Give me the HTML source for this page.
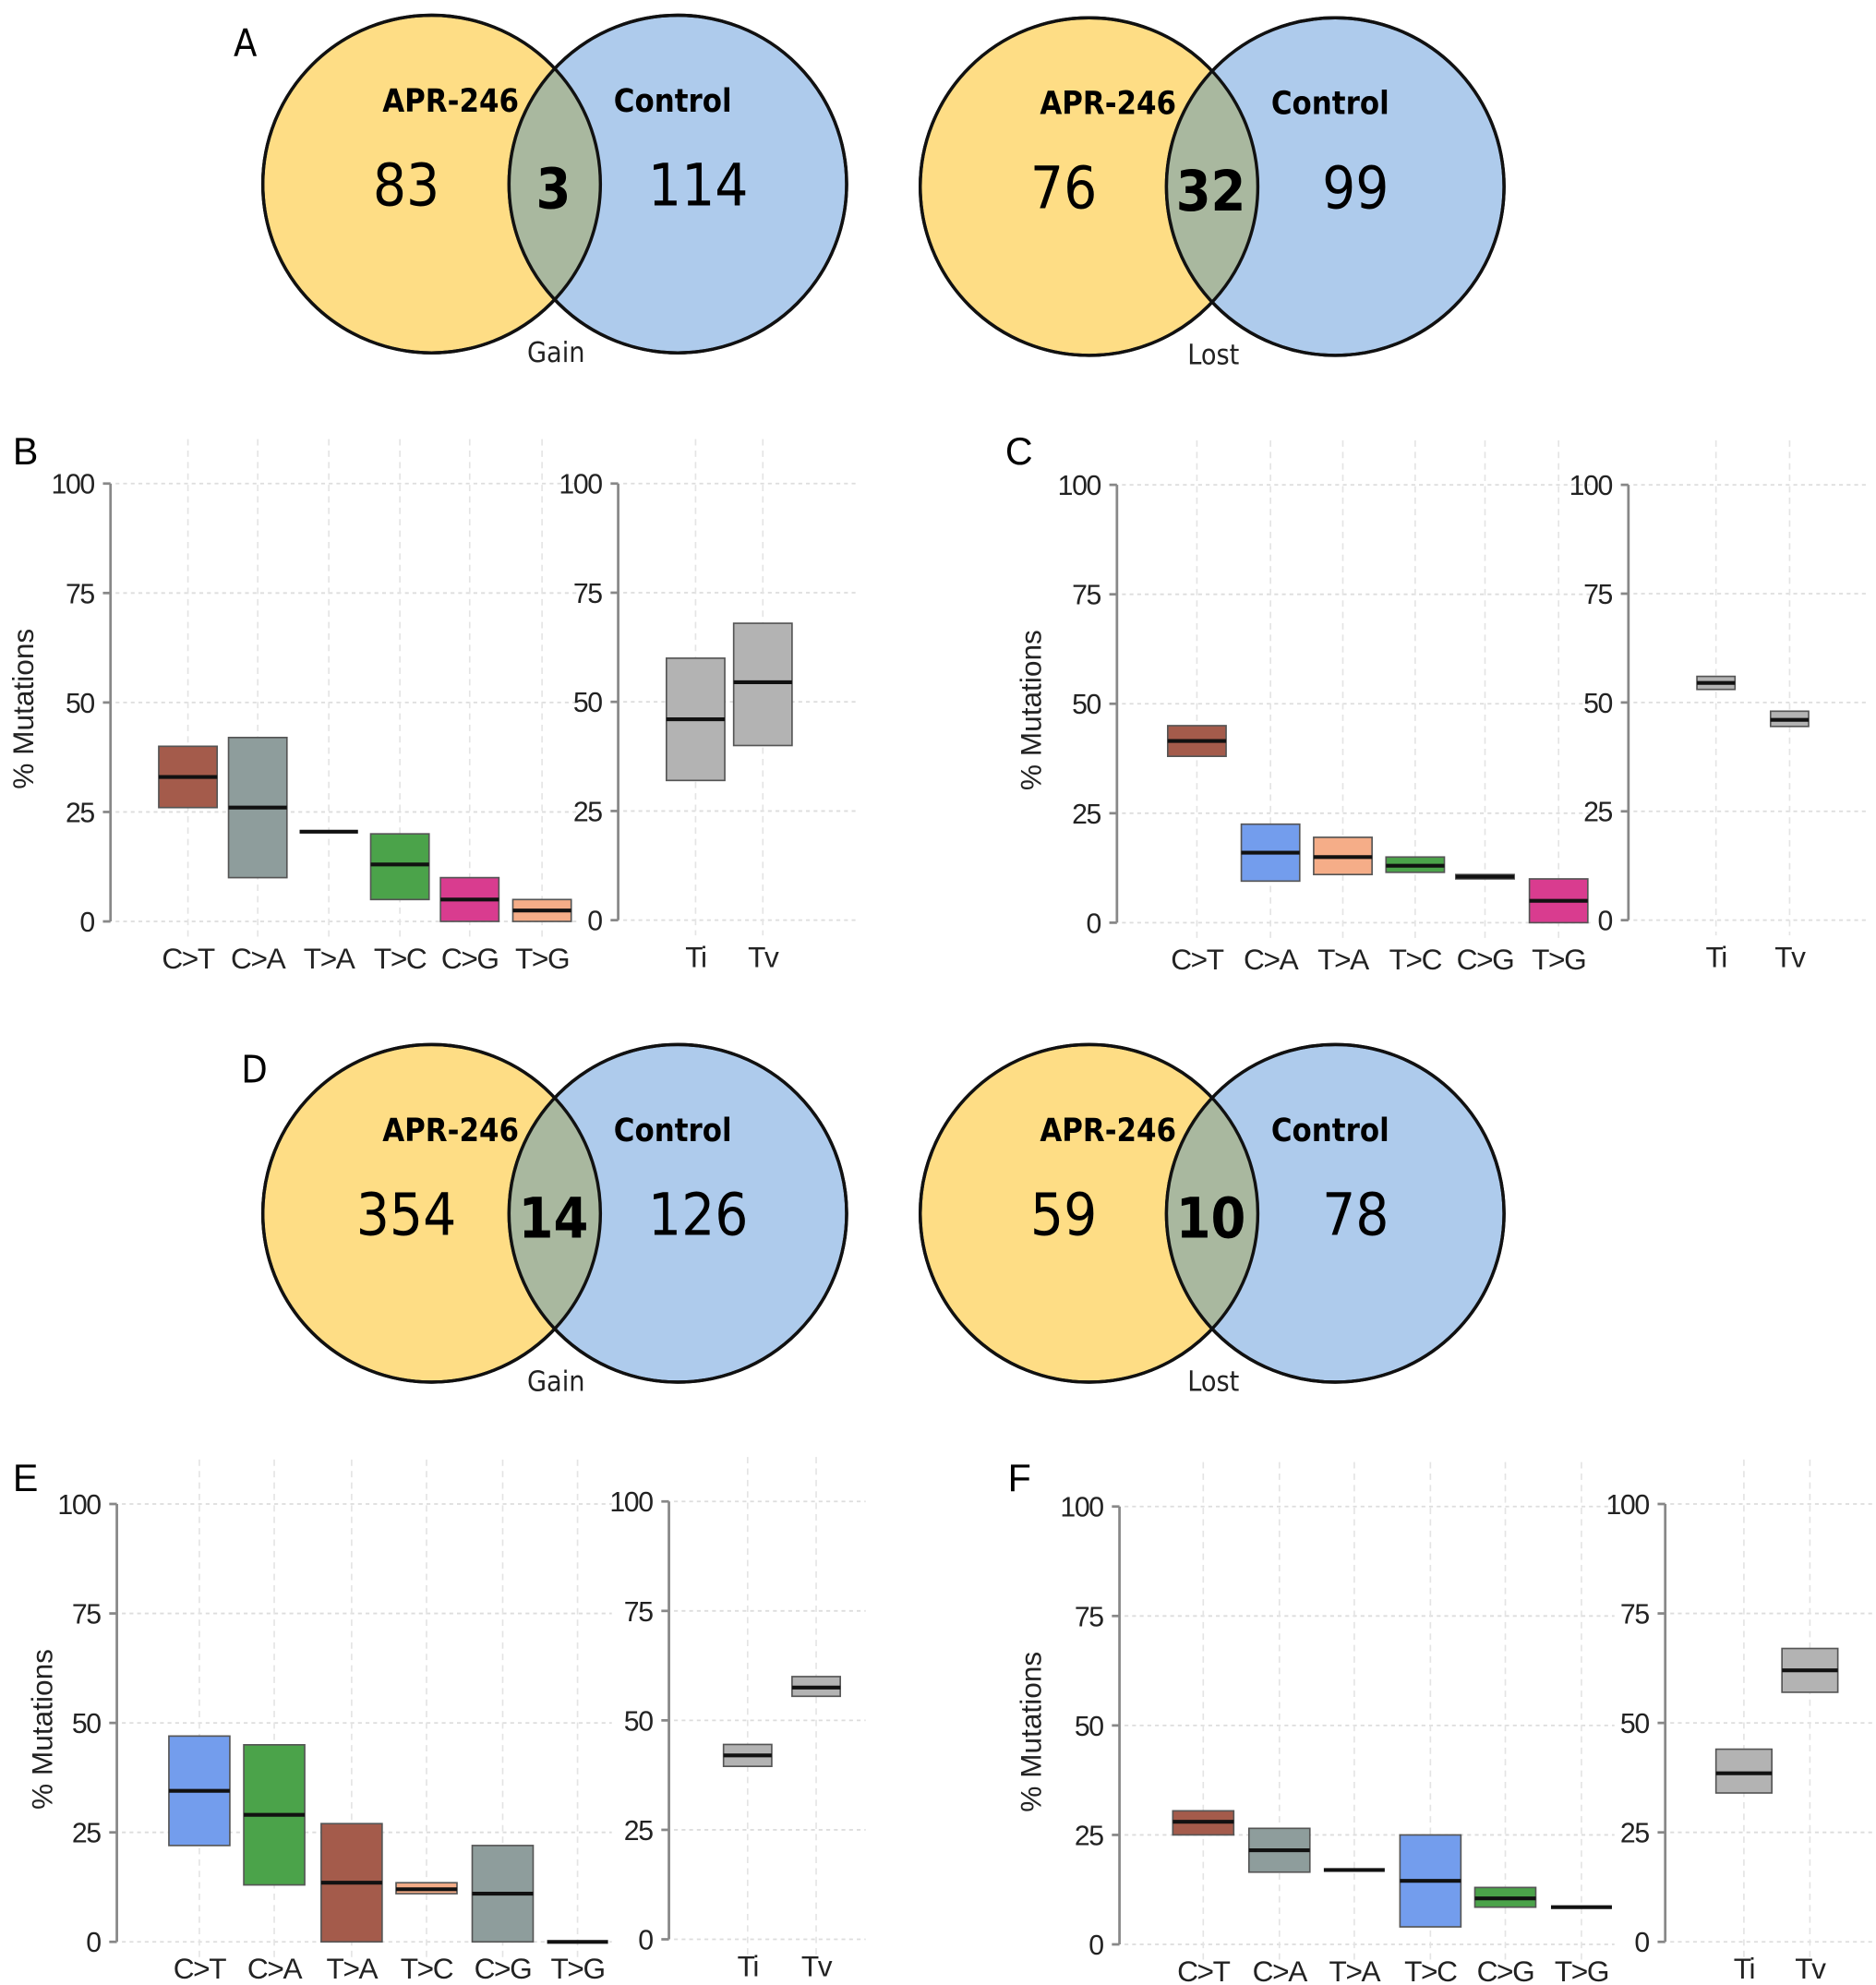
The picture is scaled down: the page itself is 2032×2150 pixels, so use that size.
<!DOCTYPE html>
<html><head><meta charset="utf-8">
<style>
html,body{margin:0;padding:0;background:#fff;}
svg{display:block;}
text{font-family:"Liberation Sans",sans-serif;}
.venn text{font-family:"DejaVu Sans Condensed","Liberation Sans",sans-serif;}
</style></head>
<body>
<svg id="fig" width="2032" height="2150" viewBox="0 0 1478 1564" xmlns="http://www.w3.org/2000/svg">
<g class="venn">
  <text x="184" y="44" font-size="30">A</text>
  <text x="190" y="853" font-size="30">D</text>
</g>
<g id="charts"></g>
</svg>
<script>
// ---- Venn data ----
const vennAGain = [83, 3, 114];
const vennALost = [76, 32, 99];
const vennDGain = [354, 14, 126];
const vennDLost = [59, 10, 78];

// ---- Panel B ----
const catsB = ["C>T","C>A","T>A","T>C","C>G","T>G"];
const lowB = [26, 10, 20.5, 5, 0, 0];
const medB = [33, 26, 20.5, 13, 5, 2.5];
const highB = [40, 42, 20.5, 20, 10, 5];
const tiLowB = [32, 40], tiMedB = [46, 54.5], tiHighB = [60, 68];
// ---- Panel C ----
const catsC = ["C>T","C>A","T>A","T>C","C>G","T>G"];
const lowC = [38, 9.5, 11, 11.5, 10, 0];
const medC = [41.5, 16, 15, 13, 10.5, 5];
const highC = [45, 22.5, 19.5, 15, 11, 10];
const tiLowC = [53, 44.5], tiMedC = [54.5, 46], tiHighC = [56, 48];
// ---- Panel E ----
const catsE = ["C>T","C>A","T>A","T>C","C>G","T>G"];
const lowE = [22, 13, 0, 11, 0, 0];
const medE = [34.5, 29, 13.5, 12, 11, 0];
const highE = [47, 45, 27, 13.5, 22, 0];
const tiLowE = [39.5, 55.5], tiMedE = [42, 57.5], tiHighE = [44.5, 60];
// ---- Panel F ----
const catsF = ["C>T","C>A","T>A","T>C","C>G","T>G"];
const lowF = [25, 16.5, 17, 4, 8.5, 8.5];
const medF = [28, 21.5, 17, 14.5, 10.5, 8.5];
const highF = [30.5, 26.5, 17, 25, 13, 8.5];
const tiLowF = [34, 57], tiMedF = [38.5, 62], tiHighF = [44, 67];

const tickVals = [0, 25, 50, 75, 100];
const tiCats = ["Ti","Tv"];

const NS = "http://www.w3.org/2000/svg";
function mk(tag, attrs, parent, txt){
  const e = document.createElementNS(NS, tag);
  for (const k in attrs) e.setAttribute(k, attrs[k]);
  if (txt !== undefined) e.textContent = txt;
  parent.appendChild(e);
  return e;
}
const root = document.getElementById('fig');
const vg = root.querySelector('.venn');

function venn(cxL, cy, vals, caption){
  const r = 133, cxR = cxL + 194;
  const g = mk('g', {}, vg);
  
  
  const c1 = mk('circle', {cx:cxL, cy:cy, r:r, fill:'#fedd85', stroke:'#111', 'stroke-width':2.5}, g);
  
  
  const c2 = mk('circle', {cx:cxR, cy:cy, r:r, fill:'#aecbec', stroke:'#111', 'stroke-width':2.5}, g);
  
  
  const id = 'clip' + cxL + cy;
  const cp = mk('clipPath', {id:id}, g);
  mk('circle', {cx:cxL, cy:cy, r:r}, cp);
  const ov = mk('circle', {cx:cxR, cy:cy, r:r, fill:'#a9b89f', 'clip-path':'url(#'+id+')'}, g);
  
  
  mk('circle', {cx:cxL, cy:cy, r:r, fill:'none', stroke:'#111', 'stroke-width':2.5}, g);
  mk('circle', {cx:cxR, cy:cy, r:r, fill:'none', stroke:'#111', 'stroke-width':2.5}, g);
  const t1 = mk('text', {x:cxL+15, y:cy-57, 'font-size':25, 'font-weight':'bold', 'text-anchor':'middle'}, g, 'APR-246');
  
  
  const t2 = mk('text', {x:cxR-4, y:cy-57, 'font-size':25, 'font-weight':'bold', 'text-anchor':'middle'}, g, 'Control');
  
  
  const n1 = mk('text', {x:cxL-20, y:cy+17, 'font-size':46, 'text-anchor':'middle'}, g, vals[0]);
  
  
  const n2 = mk('text', {x:cxL+96, y:cy+19, 'font-size':44, 'font-weight':'bold', 'text-anchor':'middle'}, g, vals[1]);
  
  
  const n3 = mk('text', {x:cxR+16, y:cy+17, 'font-size':46, 'text-anchor':'middle'}, g, vals[2]);
  
  
  const cap = mk('text', {x:cxL+98, y:cy+140, 'font-size':22, 'text-anchor':'middle', fill:'#222'}, g, caption);
  
  
}
venn(340, 145, vennAGain, 'Gain');
venn(858, 147, vennALost, 'Lost');
venn(340, 956, vennDGain, 'Gain');
venn(858, 956, vennDLost, 'Lost');

const cg = document.getElementById('charts');
const COLORS = {brown:'#a45b4b', grey:'#8e9d9c', green:'#4ba34a', mag:'#d93c8f', peach:'#f5ad88', blue:'#739ded', lg:'#b3b3b3'};

function subplot(g, labOff, axX, y0, y100, xs, cats, low, med, high, colors, bw, gridRight){
  const ys = v => y0 - (v/100)*(y0-y100);
  tickVals.forEach(t => {
    const l = mk('line', {x1:axX+4, x2:gridRight, y1:ys(t), y2:ys(t), stroke:'#ddd', 'stroke-width':1.3, 'stroke-dasharray':'3,3'}, g);
    
    
  });
  xs.forEach(x => {
    const l = mk('line', {x1:x, x2:x, y1:y100-35, y2:y0+12, stroke:'#e4e4e4', 'stroke-width':1.2, 'stroke-dasharray':'5,4'}, g);
    
    
  });
  const ax = mk('line', {x1:axX, x2:axX, y1:y100, y2:y0, stroke:'#888', 'stroke-width':2}, g);
  
  
  tickVals.forEach(t => {
    mk('line', {x1:axX-6, x2:axX, y1:ys(t), y2:ys(t), stroke:'#888', 'stroke-width':2}, g);
    const tl = mk('text', {x:axX-13, y:ys(t)+8, 'font-size':22, 'text-anchor':'end', fill:'#222', 'letter-spacing':'-1'}, g, t);
    
    
  });
  cats.forEach((c, i) => {
    const x = xs[i];
    if (high[i] - low[i] > 0.1) {
      const r = mk('rect', {x:x-bw/2, y:ys(high[i]), width:bw, height:ys(low[i])-ys(high[i]), fill:colors[i], stroke:'#555', 'stroke-width':1.2}, g);
      
      
    }
    const m = mk('line', {x1:x-bw/2, x2:x+bw/2, y1:ys(med[i]), y2:ys(med[i]), stroke:'#111', 'stroke-width':3}, g);
    
    
    const tl = mk('text', {x:x, y:y0+labOff, 'font-size':23, 'text-anchor':'middle', fill:'#222', 'letter-spacing':'-1'}, g, c);
    
    
  });
}

function panel(name, label, lx, ly, ytx, labOff, cfgL, cfgR){
  const g = mk('g', {}, cg);
  
  
  const pl = mk('text', {x:lx, y:ly, 'font-size':30}, g, label);
  
  
  const mid = (cfgL[1] + cfgL[2]) / 2 + 5;
  const yt = mk('text', {x:ytx, y:mid, 'font-size':23, 'text-anchor':'middle', transform:'rotate(-90 '+ytx+' '+mid+')', fill:'#222'}, g, '% Mutations');
  
  
  subplot(g, labOff, ...cfgL);
  subplot(g, labOff, ...cfgR);
}

panel('b', 'B', 10, 366, 26, 37,
  [87, 726, 381, [148,203,259,315,370,427], catsB, lowB, medB, highB,
   [COLORS.brown, COLORS.grey, COLORS.grey, COLORS.green, COLORS.mag, COLORS.peach], 46, 455],
  [487, 725, 381, [548,601], tiCats, tiLowB, tiMedB, tiHighB, [COLORS.lg, COLORS.lg], 46, 676]);
panel('c', 'C', 792, 366, 820, 37,
  [880, 727, 382, [943,1001,1058,1115,1170,1228], catsC, lowC, medC, highC,
   [COLORS.brown, COLORS.blue, COLORS.peach, COLORS.green, COLORS.lg, COLORS.mag], 46, 1255],
  [1283, 725, 382, [1352,1410], tiCats, tiLowC, tiMedC, tiHighC, [COLORS.lg, COLORS.lg], 30, 1470]);
panel('e', 'E', 10, 1175, 41, 29,
  [92, 1530, 1185, [157,216,277,336,396,455], catsE, lowE, medE, highE,
   [COLORS.blue, COLORS.green, COLORS.brown, COLORS.peach, COLORS.grey, COLORS.peach], 48, 482],
  [527, 1528, 1183, [589,643], tiCats, tiLowE, tiMedE, tiHighE, [COLORS.lg, COLORS.lg], 38, 682]);
panel('f', 'F', 794, 1175, 820, 29,
  [882, 1532, 1187, [948,1008,1067,1127,1186,1246], catsF, lowF, medF, highF,
   [COLORS.brown, COLORS.grey, COLORS.grey, COLORS.blue, COLORS.green, COLORS.grey], 48, 1272],
  [1312, 1530, 1185, [1374,1426], tiCats, tiLowF, tiMedF, tiHighF, [COLORS.lg, COLORS.lg], 44, 1478]);
</script>
</body></html>
